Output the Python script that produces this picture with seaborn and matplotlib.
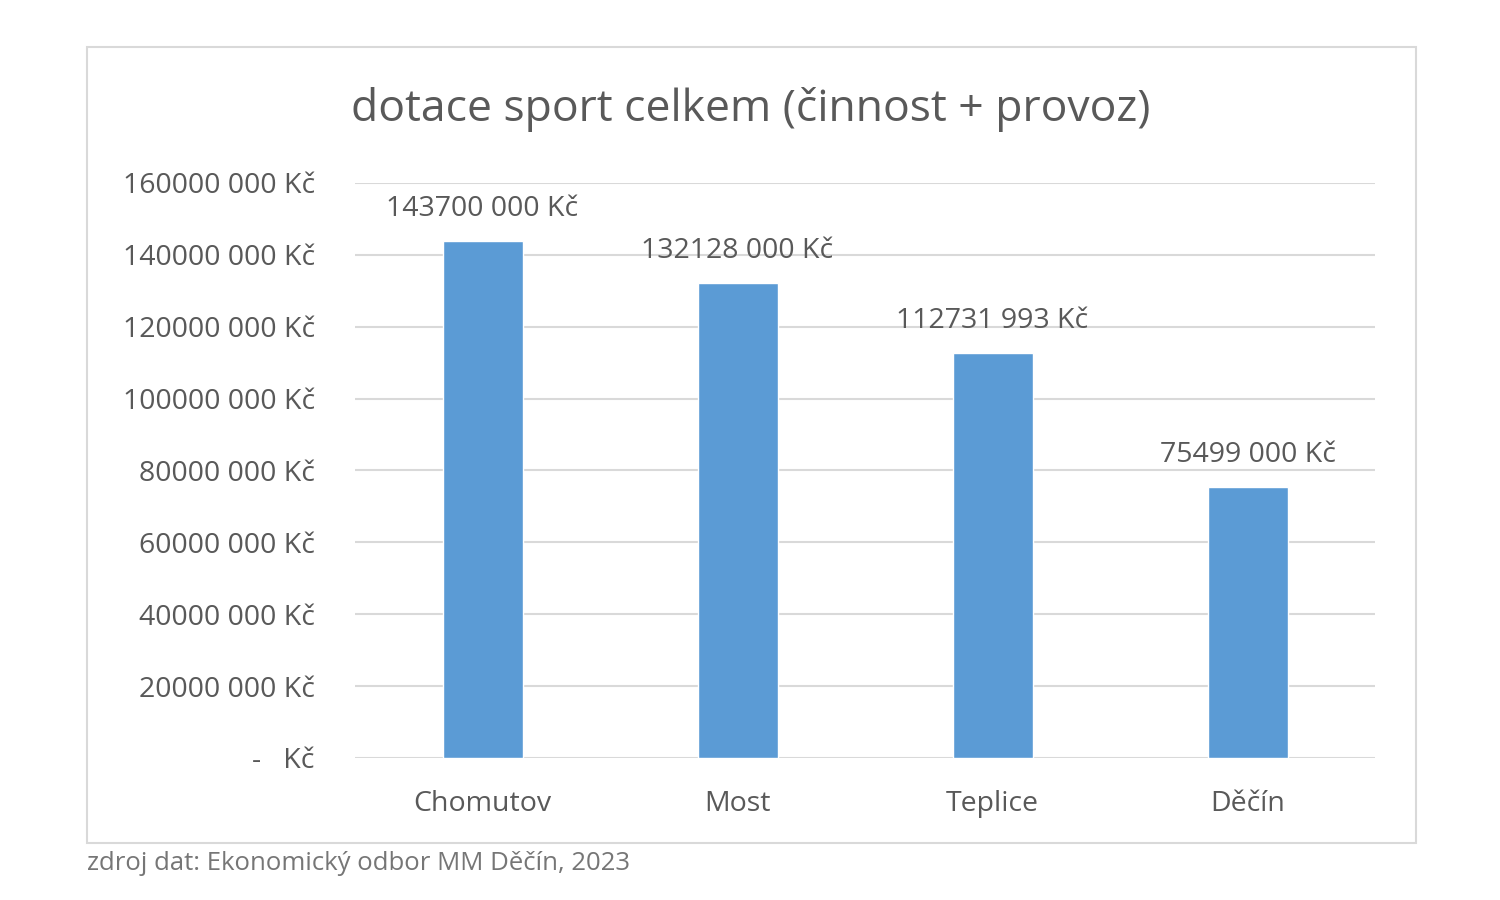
import pandas as pd
import matplotlib.pyplot as plt
from matplotlib.patches import Rectangle
from matplotlib.ticker import FuncFormatter
import seaborn as sns

mesta = ["Chomutov", "Most", "Teplice", "Děčín"]
dotace = [143700000, 132128000, 112731993, 75499000]
yticks = [0, 20000000, 40000000, 60000000, 80000000, 100000000, 120000000, 140000000, 160000000]

df = pd.DataFrame({"mesto": mesta, "dotace": dotace})

sns.set_style("white")
plt.rcParams["font.family"] = ["Open Sans", "DejaVu Sans"]

grey = "#595959"


def kc_fmt(v, pos=None):
    # Excel-like format: only the last thousands group is separated
    v = int(round(v))
    if v == 0:
        return "-   Kč"
    return f"{v // 1000} {v % 1000:03d} Kč"


fig = plt.figure(figsize=(15, 9), dpi=100)
ax = fig.add_axes([0.2367, 0.1578, 0.68, 0.639])

sns.barplot(data=df, x="mesto", y="dotace", color="#5B9BD5", width=0.314,
            saturation=1, ax=ax)

ax.set_ylim(0, 160000000)
ax.set_yticks(yticks)
ax.yaxis.set_major_formatter(FuncFormatter(kc_fmt))
ax.grid(axis="y", color="#D9D9D9", linewidth=1.5)
ax.set_axisbelow(True)
for s in ax.spines.values():
    s.set_visible(False)
ax.tick_params(axis="both", length=0, colors=grey)
ax.tick_params(axis="y", pad=29, labelsize=20.5)
ax.tick_params(axis="x", pad=23, labelsize=20.5)
ax.set_xlabel("")
ax.set_ylabel("")

ax.bar_label(ax.containers[0], labels=[kc_fmt(v) for v in dotace],
             padding=13, fontsize=20.5, color=grey)

fig.text(0.5007, 0.878, "dotace sport celkem (činnost + provoz)", ha="center",
         va="center", fontsize=32, color=grey)
fig.text(0.058, 0.04, "zdroj dat: Ekonomický odbor MM Děčín, 2023",
         ha="left", va="center", fontsize=18.5, color="#767676")

fig.patches.append(Rectangle((87 / 1500, 1 - 843 / 900), (1416 - 87) / 1500,
                             (843 - 47) / 900, transform=fig.transFigure,
                             fill=False, edgecolor="#D9D9D9", linewidth=1.5))

fig.savefig("out.png")
